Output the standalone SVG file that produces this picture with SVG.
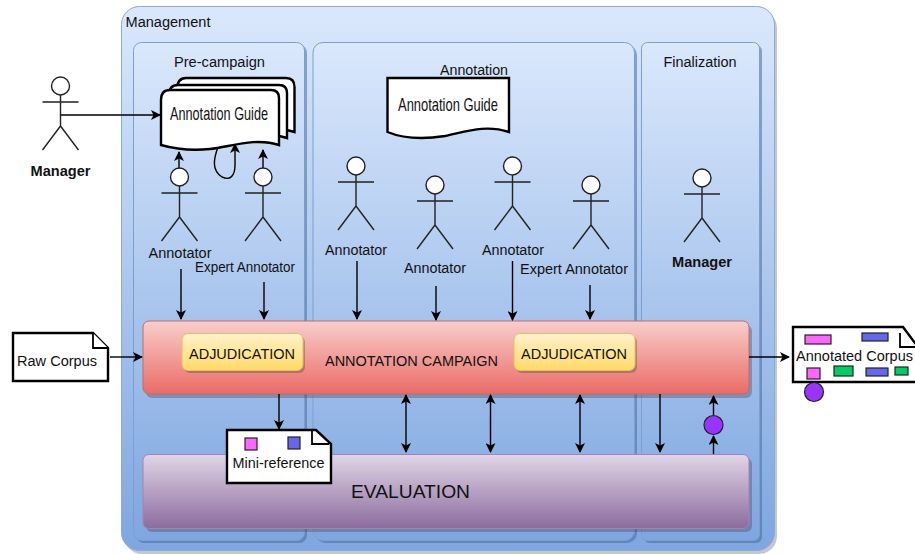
<svg xmlns="http://www.w3.org/2000/svg" xmlns:xlink="http://www.w3.org/1999/xlink" width="915" height="554" viewBox="0 0 915 554">
<style>
text{font-family:"Liberation Sans",Arial,sans-serif;font-size:14px;fill:#111;text-anchor:middle}
.l{stroke:#000;stroke-width:1.4;fill:none}
.doc{fill:#fff;stroke:#000;stroke-width:2.4}
.head{fill:#fff;stroke:#222;stroke-width:1.4}
.stick{fill:none;stroke:#222;stroke-width:1.4}
.sw{stroke:#222;stroke-width:1.2}
.guide{font-size:19px}
</style>
<defs>
<linearGradient id="gb" x1="0" y1="0" x2="0" y2="1"><stop offset="0" stop-color="#dae8fc"/><stop offset="1" stop-color="#7ea6e0"/></linearGradient>
<linearGradient id="gr" x1="0" y1="0" x2="0" y2="1"><stop offset="0" stop-color="#f8cecc"/><stop offset="1" stop-color="#ea6b66"/></linearGradient>
<linearGradient id="gp" x1="0" y1="0" x2="0" y2="1"><stop offset="0" stop-color="#e1d5e7"/><stop offset="1" stop-color="#8c6c9e"/></linearGradient>
<linearGradient id="gy" x1="0" y1="0" x2="0" y2="1"><stop offset="0" stop-color="#fff2cc"/><stop offset="1" stop-color="#ffd966"/></linearGradient>
<marker id="a" markerWidth="12" markerHeight="10" refX="9" refY="5" orient="auto-start-reverse" markerUnits="userSpaceOnUse"><path d="M0 0L10 5L0 10L2.5 5Z" fill="#000"/></marker>
<g id="actor"><circle class="head" cx="0" cy="9" r="9"/><path class="stick" d="M0 18V49M-18 25H18M-18 73L0 49L18 73"/></g>
</defs>
<g id="management">
<rect x="124" y="10" width="653" height="544" rx="18" fill="#999" opacity=".55"/>
<rect x="121.500" y="6.500" width="653" height="544" rx="18" fill="url(#gb)" stroke="#8caad6"/>
<text x="125.500" y="27" style="text-anchor:start" textLength="85" lengthAdjust="spacingAndGlyphs">Management</text>
</g>
<g id="pre-campaign">
<rect x="136" y="45" width="171" height="498" rx="8" fill="#4a6a9a" opacity=".55"/>
<rect x="133.500" y="42.500" width="171" height="498" rx="8" fill="url(#gb)" stroke="#7d9fd0"/>
<text x="219.500" y="67" textLength="91" lengthAdjust="spacingAndGlyphs">Pre-campaign</text>
</g>
<g id="annotation">
<rect x="315.500" y="45" width="321.500" height="498" rx="10" fill="#4a6a9a" opacity=".55"/>
<rect x="313" y="42.500" width="321.500" height="498" rx="10" fill="url(#gb)" stroke="#7d9fd0"/>
<text x="474" y="75" textLength="68" lengthAdjust="spacingAndGlyphs">Annotation</text>
</g>
<g id="finalization">
<rect x="644" y="45" width="118" height="498" rx="6" fill="#4a6a9a" opacity=".55"/>
<rect x="641.500" y="42.500" width="118" height="498" rx="6" fill="url(#gb)" stroke="#7d9fd0"/>
<text x="700" y="66.500" textLength="73" lengthAdjust="spacingAndGlyphs">Finalization</text>
</g>
<g id="annotation-campaign">
<rect x="146" y="325" width="606" height="73" rx="6" fill="#444" opacity=".35"/>
<rect x="143" y="321" width="606" height="73" rx="6" fill="url(#gr)" stroke="#c26a6a"/>
<text x="411.500" y="366" textLength="173" lengthAdjust="spacingAndGlyphs">ANNOTATION CAMPAIGN</text>
</g>
<g id="adjudication-1">
<rect x="184" y="336" width="121" height="37" rx="6" fill="#444" opacity=".35"/>
<rect x="182" y="333.500" width="121" height="37" rx="6" fill="url(#gy)" stroke="#e3c25e"/>
<text x="242" y="359" textLength="106" lengthAdjust="spacingAndGlyphs">ADJUDICATION</text>
</g>
<g id="adjudication-2">
<rect x="516" y="336" width="121" height="37" rx="6" fill="#444" opacity=".35"/>
<rect x="514" y="333.500" width="121" height="37" rx="6" fill="url(#gy)" stroke="#e3c25e"/>
<text x="574" y="359" textLength="106" lengthAdjust="spacingAndGlyphs">ADJUDICATION</text>
</g>
<g id="evaluation">
<rect x="146" y="458" width="606" height="74" rx="6" fill="#444" opacity=".35"/>
<rect x="143" y="454.500" width="606" height="74" rx="6" fill="url(#gp)" stroke="#a681b8"/>
<text x="410.500" y="498" style="font-size:19px" textLength="119" lengthAdjust="spacingAndGlyphs">EVALUATION</text>
</g>
<g id="connectors">
<path class="l" marker-end="url(#a)" d="M61 115H160"/>
<path class="l" marker-end="url(#a)" d="M179 170V152"/>
<path class="l" marker-end="url(#a)" d="M263 170V150"/>
<path class="l" marker-end="url(#a)" d="M218 147C214 158 211 170 222 177C230 181 235 176 235 165V144"/>
<path class="l" marker-end="url(#a)" d="M181 269V319"/>
<path class="l" marker-end="url(#a)" d="M264 282V319"/>
<path class="l" marker-end="url(#a)" d="M357 261V319"/>
<path class="l" marker-end="url(#a)" d="M436 286V320"/>
<path class="l" marker-end="url(#a)" d="M512.500 261V320"/>
<path class="l" marker-end="url(#a)" d="M590 285V319"/>
<path class="l" marker-end="url(#a)" d="M110 357H142"/>
<path class="l" marker-end="url(#a)" d="M749 357H789"/>
<path class="l" marker-end="url(#a)" d="M279 394V429"/>
<path class="l" marker-start="url(#a)" marker-end="url(#a)" d="M406 395V452"/>
<path class="l" marker-start="url(#a)" marker-end="url(#a)" d="M490.500 395V452"/>
<path class="l" marker-start="url(#a)" marker-end="url(#a)" d="M580 395V452"/>
<path class="l" marker-end="url(#a)" d="M660 394V452"/>
<path class="l" marker-end="url(#a)" d="M713.500 454V436"/>
<path class="l" marker-end="url(#a)" d="M713.500 415V396"/>
</g>
<g id="manager-left"><use xlink:href="#actor" x="60.500" y="77"/><text x="60.500" y="176" style="font-weight:bold" textLength="60" lengthAdjust="spacingAndGlyphs">Manager</text></g>
<g id="guide-stack">
<path class="doc" d="M177 90Q177 78 186 78H286Q294.500 78 294.500 87V132C270 124 245 134 225 136C205 138 190 136 177 130Z"/>
<path class="doc" d="M169 95Q169 85 178 85H279Q287 85 287 93V138C263 130 238 140 218 142C198 144 183 142 169 136Z"/>
<path class="doc" d="M161 100Q161 90 170 90H271Q279 90 279 98V145C255 137 230 147 210 149C190 151 175 149 161 145Z"/>
<text class="guide" x="219" y="120" textLength="98" lengthAdjust="spacingAndGlyphs">Annotation Guide</text>
</g>
<g id="guide-annotation">
<path class="doc" d="M387.500 78H509V132C485 124 465 132 445 136C420 140 402 138 387.500 132Z"/>
<text class="guide" x="448" y="111" textLength="100" lengthAdjust="spacingAndGlyphs">Annotation Guide</text>
</g>
<g id="annotator-1"><use xlink:href="#actor" x="179.500" y="168"/><text x="180" y="258" textLength="63" lengthAdjust="spacingAndGlyphs">Annotator</text></g>
<g id="expert-1"><use xlink:href="#actor" x="263" y="168"/><text x="245" y="272" textLength="100" lengthAdjust="spacingAndGlyphs">Expert Annotator</text></g>
<g id="annotator-2"><use xlink:href="#actor" x="356" y="157"/><text x="356" y="255" textLength="62" lengthAdjust="spacingAndGlyphs">Annotator</text></g>
<g id="annotator-3"><use xlink:href="#actor" x="435" y="176"/><text x="435" y="273" textLength="62" lengthAdjust="spacingAndGlyphs">Annotator</text></g>
<g id="annotator-4"><use xlink:href="#actor" x="512.500" y="157"/><text x="513" y="255" textLength="62" lengthAdjust="spacingAndGlyphs">Annotator</text></g>
<g id="expert-2"><use xlink:href="#actor" x="591" y="176"/><text x="574" y="274" textLength="108" lengthAdjust="spacingAndGlyphs">Expert Annotator</text></g>
<g id="manager-right"><use xlink:href="#actor" x="702" y="169"/><text x="702" y="267" style="font-weight:bold" textLength="60" lengthAdjust="spacingAndGlyphs">Manager</text></g>
<g id="raw-corpus">
<path class="doc" d="M13 333H93L108 348V381H13Z"/><path class="doc" d="M93 333V348H108" style="stroke-width:1.8"/>
<text x="57" y="366" textLength="80" lengthAdjust="spacingAndGlyphs">Raw Corpus</text>
</g>
<g id="annotated-corpus">
<path class="doc" d="M793 327H903L918 347V382H793Z"/><path class="doc" d="M900 333V347H915" style="stroke-width:1.8"/>
<rect class="sw" x="805" y="335" width="26" height="9" fill="#ff66ff"/>
<rect class="sw" x="862" y="333" width="26" height="8" fill="#6666ee"/>
<text x="854.500" y="361" textLength="117" lengthAdjust="spacingAndGlyphs">Annotated Corpus</text>
<rect class="sw" x="807" y="368" width="13" height="11" fill="#ff66ff"/>
<rect class="sw" x="834" y="366" width="19" height="10" fill="#00cc66"/>
<rect class="sw" x="866" y="368" width="22" height="8" fill="#6666ee"/>
<rect class="sw" x="895" y="367" width="13" height="8" fill="#00cc66"/>
</g>
<g id="token-1"><circle cx="814" cy="392" r="9.500" fill="#9933ff" stroke="#222" stroke-width="1.2"/></g>
<g id="token-2"><circle cx="713.500" cy="425" r="9.500" fill="#9933ff" stroke="#222" stroke-width="1.2"/></g>
<g id="mini-reference">
<path class="doc" d="M227 430H316L331 444V483H227Z"/><path class="doc" d="M312 431V444H329" style="stroke-width:1.8"/>
<rect class="sw" x="245" y="438" width="12" height="12" fill="#ff66ff"/>
<rect class="sw" x="288" y="437" width="12" height="12" fill="#6666ee"/>
<text x="278.500" y="468" textLength="92" lengthAdjust="spacingAndGlyphs">Mini-reference</text>
</g>
</svg>
